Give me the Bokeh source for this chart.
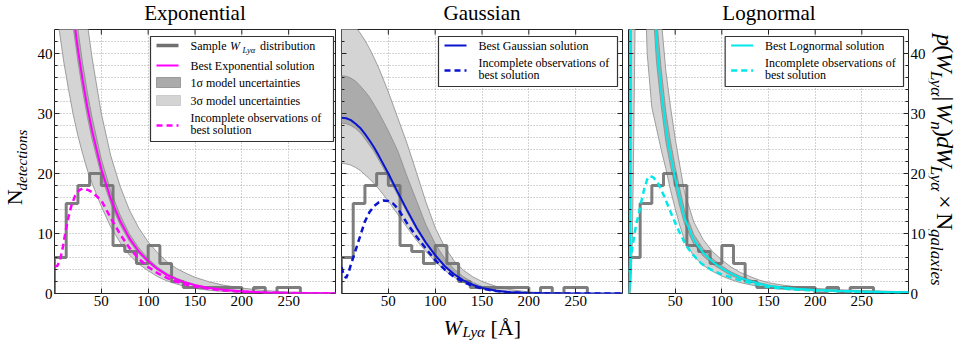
from bokeh.plotting import figure
from bokeh.models import Range1d, LinearAxis, FixedTicker, Grid, Label
from bokeh.layouts import row, column
from bokeh.embed import file_html
from bokeh.resources import INLINE

FONT = "Liberation Serif"

# ---------------- data ----------------
HIST_EDGES = [0, 12.5, 25, 37.5, 50, 62.5, 75, 87.5, 100, 112.5, 125, 137.5, 150,
              162.5, 175, 187.5, 200, 212.5, 225, 237.5, 250, 262.5]
HIST_COUNTS = [6, 15, 18, 20, 18, 8, 7, 5, 8, 5, 2, 1, 1, 1, 1, 1, 0, 1, 0, 1, 1]

X_TICKS = [50, 100, 150, 200, 250]
Y_TICKS = [0, 10, 20, 30, 40]
Y_MINOR = [2, 4, 6, 8, 12, 14, 16, 18, 22, 24, 26, 28, 32, 34, 36, 38, 42]

# Exponential model
W_EXP = [0, 5, 10, 15, 20, 25, 30, 35, 40, 50, 60, 70, 80, 90, 100, 110, 120, 130,
         140, 150, 165, 180, 200, 225, 250, 275, 300]
EXP_BEST = [80.0, 69.9, 61.1, 53.3, 46.6, 40.7, 35.6, 31.1, 27.2, 20.7, 15.8, 12.1, 9.2,
            7.0, 5.4, 4.1, 3.1, 2.4, 1.82, 1.39, 0.92, 0.62, 0.36, 0.18, 0.09, 0.047, 0.023]
EXP_S1_HI = [86.4, 75.5, 66.0, 57.6, 50.3, 44.0, 38.4, 33.6, 29.4, 22.4, 17.1, 13.1, 9.9,
             7.6, 5.8, 4.4, 3.35, 2.6, 1.97, 1.5, 1.0, 0.67, 0.39, 0.19, 0.1, 0.05, 0.025]
EXP_S1_LO = [76.0, 66.4, 58.0, 50.6, 44.3, 38.7, 33.8, 29.5, 25.8, 19.7, 15.0, 11.5, 8.7,
             6.65, 5.1, 3.9, 2.95, 2.28, 1.73, 1.32, 0.87, 0.59, 0.34, 0.17, 0.085, 0.045, 0.022]
EXP_S3_HI = [116, 101, 88.6, 77.3, 67.6, 59.0, 51.6, 45.1, 39.4, 30.0, 23.0, 17.9, 13.9,
             10.9, 8.6, 6.8, 5.3, 4.2, 3.4, 2.7, 1.95, 1.4, 0.9, 0.48, 0.25, 0.14, 0.07]
EXP_S3_LO = [50, 44, 38.5, 34, 29.8, 26.3, 23.3, 20.6, 18.4, 14.5, 11.1, 8.5, 6.4, 4.9,
             3.8, 2.8, 2.1, 1.6, 1.15, 0.85, 0.53, 0.34, 0.18, 0.09, 0.045, 0.023, 0.011]
W_EXP_INC = [0, 3, 6, 9, 12, 15, 18, 22, 26, 30, 35, 40, 50, 60, 70, 80, 90, 100, 110,
             120, 130, 140, 150, 165, 180, 200, 225, 250, 275, 300]
EXP_INC = [4.5, 4.6, 5.6, 7.8, 10.5, 12.8, 14.6, 16.3, 17.2, 17.5, 17.3, 16.9, 15.5, 12.6,
           9.9, 7.6, 5.8, 4.4, 3.4, 2.6, 2.0, 1.5, 1.16, 0.77, 0.52, 0.3, 0.15, 0.075, 0.039, 0.019]

# Gaussian model
W_GAU = W_EXP
GAU_BEST = [29.3, 29.2, 28.9, 28.3, 27.6, 26.6, 25.5, 24.3, 22.9, 20.0, 16.9, 13.9, 11.0,
            8.5, 6.4, 4.6, 3.25, 2.2, 1.47, 0.94, 0.46, 0.21, 0.065, 0.013, 0.002, 0.0, 0.0]
GAU_S1_HI = [36.3, 36.2, 35.9, 35.4, 34.6, 33.7, 32.7, 31.4, 30.1, 27.1, 23.8, 19.5, 15.5,
             11.5, 8.3, 5.9, 4.1, 2.8, 1.85, 1.2, 0.6, 0.28, 0.09, 0.02, 0.004, 0.0, 0.0]
GAU_S1_LO = [28.4, 28.3, 28.0, 27.5, 26.8, 25.8, 24.7, 23.6, 22.2, 19.4, 16.4, 13.5, 10.7,
             8.2, 6.2, 4.45, 3.15, 2.13, 1.42, 0.91, 0.45, 0.2, 0.063, 0.013, 0.002, 0.0, 0.0]
GAU_S3_HI = [45.6, 45.5, 45.0, 44.4, 43.4, 42.2, 40.8, 39.2, 37.5, 33.6, 29.3, 25.0, 20.2,
             15.3, 11.0, 7.8, 5.5, 3.9, 2.8, 2.0, 1.2, 0.65, 0.26, 0.08, 0.02, 0.004, 0.0]
GAU_S3_LO = [21.7, 21.6, 21.4, 21.0, 20.5, 19.8, 19.1, 18.3, 17.4, 15.4, 13.2, 11.0, 8.9,
             7.0, 5.3, 3.9, 2.75, 1.85, 1.2, 0.75, 0.35, 0.15, 0.04, 0.007, 0.001, 0.0, 0.0]
W_GAU_INC = [0, 2.5, 5, 7.5, 10, 15, 20, 25, 30, 35, 40, 45, 50, 55, 60, 70, 80, 90, 100,
             110, 120, 130, 140, 150, 165, 180, 200, 225, 250, 300]
GAU_INC = [4.4, 3.0, 2.6, 3.5, 4.8, 7.2, 9.6, 12.0, 13.6, 14.6, 15.2, 15.5, 15.4, 15.0,
           14.2, 11.7, 9.5, 7.5, 5.6, 4.0, 2.8, 1.9, 1.27, 0.81, 0.4, 0.18, 0.055, 0.011, 0.002, 0.0]

# Lognormal model
W_LOG = [0, 0.5, 1, 1.5, 2, 2.5, 3, 4, 5, 7, 10, 15, 20, 25, 30, 35, 40, 45, 50, 55, 60,
         70, 80, 90, 100, 110, 120, 130, 140, 150, 165, 180, 200, 225, 250, 275, 300]
LOG_BEST = [0, 0, 0.3, 1.5, 8, 40, 80, 120, 150, 170, 160, 120, 85, 55, 42, 34, 27.5, 23,
            19.2, 15.8, 12.6, 8.9, 6.8, 5.3, 4.2, 3.3, 2.6, 2.1, 1.65, 1.3, 1.0, 0.8, 0.6,
            0.45, 0.35, 0.27, 0.2]
LOG_S1_HI = [0, 0.5, 2, 6, 20, 60, 100, 140, 170, 190, 180, 132, 93.5, 60.5, 46.2, 37.4,
             30.3, 25.3, 21.1, 17.4, 13.9, 9.8, 7.5, 5.8, 4.6, 3.6, 2.85, 2.3, 1.8, 1.43,
             1.1, 0.88, 0.66, 0.5, 0.39, 0.3, 0.22]
LOG_S1_LO = [0, 0, 0.1, 0.8, 4, 25, 60, 100, 135, 155, 147, 110, 78, 50.6, 38.6, 31.3,
             25.3, 21.2, 17.7, 14.5, 11.6, 8.2, 6.25, 4.9, 3.9, 3.0, 2.4, 1.93, 1.52, 1.2,
             0.92, 0.74, 0.55, 0.41, 0.32, 0.25, 0.18]
LOG_S3_HI = [0, 6, 30, 60, 90, 120, 150, 180, 200, 220, 210, 160, 115, 74, 56.7, 45.9,
             37.1, 31.1, 25.9, 21.3, 16.9, 11.9, 9.0, 7.0, 5.6, 4.4, 3.5, 2.85, 2.25, 1.8,
             1.4, 1.12, 0.85, 0.64, 0.5, 0.39, 0.29]
LOG_S3_LO = [0, 0, 0, 0, 0.5, 1.5, 3, 8, 18, 44, 90, 65, 40, 31, 27.5, 24, 20.8, 17.2,
             14.2, 11.3, 8.9, 6.2, 4.7, 3.7, 2.9, 2.3, 1.8, 1.47, 1.15, 0.9, 0.7, 0.56,
             0.42, 0.31, 0.24, 0.19, 0.14]
W_LOG_INC = [1, 2, 4, 6, 8, 11, 14, 17, 20, 23, 27, 32, 38, 43, 48, 54, 60, 64, 70, 78,
             88, 100, 115, 130, 150, 175, 200, 250, 300]
LOG_INC = [3.5, 5, 7.5, 9.5, 11.3, 13.3, 15.5, 17.5, 19, 19.6, 19.3, 18.3, 16.3, 14.4,
           12.5, 10.4, 8.5, 7.5, 6.3, 5.0, 4.0, 3.2, 2.4, 1.8, 1.05, 0.7, 0.5, 0.29, 0.16]

PANELS = [
    dict(title="Exponential", color="#ff00ff", w=W_EXP, best=EXP_BEST, s1hi=EXP_S1_HI,
         s1lo=EXP_S1_LO, s3hi=EXP_S3_HI, s3lo=EXP_S3_LO, wi=W_EXP_INC, inc=EXP_INC),
    dict(title="Gaussian", color="#0a14d0", w=W_GAU, best=GAU_BEST, s1hi=GAU_S1_HI,
         s1lo=GAU_S1_LO, s3hi=GAU_S3_HI, s3lo=GAU_S3_LO, wi=W_GAU_INC, inc=GAU_INC),
    dict(title="Lognormal", color="#00e8e8", w=W_LOG, best=LOG_BEST, s1hi=LOG_S1_HI,
         s1lo=LOG_S1_LO, s3hi=LOG_S3_HI, s3lo=LOG_S3_LO, wi=W_LOG_INC, inc=LOG_INC),
]

# ---------------- layout (canvas pixels) ----------------
XMAX, YMAX = 300, 44
FRAME_TOP, FRAME_BOTTOM = 29, 293
FW = 281
FRAME_LEFTS = [54, 341, 628]
TOP_H, MID_H, BOT_H = 27, 287, 29
LEFT_W, RIGHT_W = 32, 41
FIG_SPECS = [(306, 22, 3), (287, 3, 3), (303, 3, 19)]  # width, border left, border right
TOTAL_W = LEFT_W + sum(s[0] for s in FIG_SPECS) + RIGHT_W
CORR = 0.28  # baseline correction (fraction of font size)

HIST_COLOR = "#707070"
S3_COLOR = "#d4d4d4"
S1_COLOR = "#ababab"
EDGE_COLOR = "#8a8a8a"
GRID_COLOR = "#a8a8a8"
TICK_COLOR = "#222222"


def make_px(left):
    def px(x):
        return (x - left) * XMAX / FW
    return px


def py(y):
    return (FRAME_BOTTOM - y) * YMAX / (FRAME_BOTTOM - FRAME_TOP)


def text(p, conv, s, x, y, size=12, style="normal", align="left", rot=0):
    """x, y: page pixel position of the text baseline start; conv maps page px -> data."""
    if rot == 0:
        y = y - CORR * size
        angle = 0
    elif rot > 0:
        x = x - CORR * size
        angle = 1.5708
    else:
        x = x + CORR * size
        angle = -1.5708
    cx, cy = conv
    p.add_layout(Label(x=cx(x), y=cy(y), text=s, text_font=FONT, text_font_size=f"{size}px",
                       text_font_style=style, text_align=align, text_baseline="alphabetic",
                       angle=angle, text_color="black"))


def text_fig(width, height, ox, oy):
    f = figure(width=width, height=height, x_range=Range1d(0, width),
               y_range=Range1d(height, 0), x_axis_type=None, y_axis_type=None,
               output_backend="svg", toolbar_location=None, title=None,
               min_border_left=0, min_border_right=0, min_border_top=0, min_border_bottom=0)
    f.outline_line_color = None
    f.background_fill_color = "white"
    f.border_fill_color = "white"
    return f, (lambda x: x - ox, lambda y: y - oy)


xt = FixedTicker(ticks=X_TICKS, minor_ticks=[])
yt = FixedTicker(ticks=Y_TICKS, minor_ticks=Y_MINOR)
TX_MAJ = 5 * XMAX / FW
TY_MAJ = 5 * YMAX / 264.0
TX_MIN = 3 * XMAX / FW

figs = []
for i, P in enumerate(PANELS):
    width, bl, br = FIG_SPECS[i]
    left = FRAME_LEFTS[i]
    px = make_px(left)
    conv = (px, py)
    p = figure(width=width, height=MID_H, x_range=Range1d(0, XMAX), y_range=Range1d(0, YMAX),
               x_axis_type=None, y_axis_type=None, output_backend="svg", title=None,
               toolbar_location=None, min_border_left=bl, min_border_right=br,
               min_border_top=FRAME_TOP - TOP_H, min_border_bottom=TOP_H + MID_H - FRAME_BOTTOM)
    p.outline_line_color = "#222222"
    p.outline_line_width = 1
    p.background_fill_color = "white"
    p.border_fill_color = "white"

    common = dict(axis_line_color=None, major_tick_in=5, major_tick_out=0, minor_tick_in=3,
                  minor_tick_out=0, major_tick_line_color=TICK_COLOR,
                  minor_tick_line_color=TICK_COLOR, major_label_text_font=FONT,
                  major_label_text_font_size="15px", major_label_text_color="black",
                  major_label_standoff=2)
    p.add_layout(LinearAxis(ticker=xt, **common), "below")
    if i == 0:
        p.add_layout(LinearAxis(ticker=yt, **common), "left")
    if i == 2:
        p.add_layout(LinearAxis(ticker=yt, **common), "right")

    p.add_layout(Grid(dimension=0, ticker=xt, grid_line_color=GRID_COLOR,
                      grid_line_dash="1 2", grid_line_width=1))
    p.add_layout(Grid(dimension=1, ticker=yt, grid_line_color=GRID_COLOR,
                      grid_line_dash="1 2", grid_line_width=1,
                      minor_grid_line_color=GRID_COLOR, minor_grid_line_dash="1 2"))

    # uncertainty bands
    p.varea(x=P["w"], y1=P["s3lo"], y2=P["s3hi"], fill_color=S3_COLOR, fill_alpha=1)
    p.varea(x=P["w"], y1=P["s1lo"], y2=P["s1hi"], fill_color=S1_COLOR, fill_alpha=1)
    for key in ("s3lo", "s3hi", "s1lo", "s1hi"):
        p.line(x=P["w"], y=P[key], line_color=EDGE_COLOR, line_width=0.8)

    # histogram outline
    hx = [HIST_EDGES[0]] + HIST_EDGES
    hy = [0] + HIST_COUNTS + [0]
    p.step(x=hx, y=hy, mode="after", line_color=HIST_COLOR, line_width=3, line_alpha=0.9)

    # incomplete + best solution
    p.line(x=P["wi"], y=P["inc"], line_color=P["color"], line_width=2.5, line_dash="6 4")
    p.line(x=P["w"], y=P["best"], line_color=P["color"], line_width=2)

    # inward ticks on the sides without a labelled axis
    p.segment(x0=X_TICKS, x1=X_TICKS, y0=[YMAX] * 5, y1=[YMAX - TY_MAJ] * 5,
              line_color=TICK_COLOR, line_width=1)
    sides = []
    if i != 0:
        sides.append((0, 1))
    if i != 2:
        sides.append((XMAX, -1))
    for xs, sgn in sides:
        p.segment(x0=[xs] * len(Y_TICKS), x1=[xs + sgn * TX_MAJ] * len(Y_TICKS),
                  y0=Y_TICKS, y1=Y_TICKS, line_color=TICK_COLOR, line_width=1)
        p.segment(x0=[xs] * len(Y_MINOR), x1=[xs + sgn * TX_MIN] * len(Y_MINOR),
                  y0=Y_MINOR, y1=Y_MINOR, line_color=TICK_COLOR, line_width=1)

    # legend
    if i == 0:
        bx0, bx1, by0, by1 = 150, 333, 36, 141
    else:
        bx0 = left + 97
        bx1, by0, by1 = bx0 + 179, 36, 86
    p.quad(left=px(bx0), right=px(bx1), bottom=py(by1), top=py(by0),
           fill_color="white", line_color="#333333", line_width=1.2)
    sx0, sx1 = bx0 + 6, bx0 + 28
    tx = bx0 + 40
    if i == 0:
        p.line(x=[px(sx0), px(sx1)], y=[py(45), py(45)], line_color=HIST_COLOR,
               line_width=3.5)
        text(p, conv, "Sample", tx, 49)
        text(p, conv, "W", tx + 39.5, 49, style="italic")
        text(p, conv, "Lyα", tx + 52, 51.5, size=8.5, style="italic")
        text(p, conv, "distribution", tx + 69.5, 49)
        p.line(x=[px(sx0), px(sx1)], y=[py(65), py(65)], line_color=P["color"], line_width=2)
        text(p, conv, "Best Exponential solution", tx, 69)
        p.quad(left=px(sx0), right=px(sx1 + 2), bottom=py(87), top=py(77),
               fill_color=S1_COLOR, line_color=EDGE_COLOR, line_width=0.8)
        text(p, conv, "1σ model uncertainties", tx, 86)
        p.quad(left=px(sx0), right=px(sx1 + 2), bottom=py(105), top=py(95),
               fill_color=S3_COLOR, line_color="#c4c4c4", line_width=0.8)
        text(p, conv, "3σ model uncertainties", tx, 103.5)
        dy_line, t1, t2 = 125, 120.5, 132.5
    else:
        p.line(x=[px(sx0), px(sx1)], y=[py(45), py(45)], line_color=P["color"], line_width=2)
        text(p, conv, f"Best {P['title']} solution", tx, 49)
        dy_line, t1, t2 = 70, 66, 78
    p.line(x=[px(sx0), px(sx1)], y=[py(dy_line), py(dy_line)], line_color=P["color"],
           line_width=2.5, line_dash="6 4")
    text(p, conv, "Incomplete observations of", tx, t1)
    text(p, conv, "best solution", tx, t2)

    figs.append(p)

# ---------------- titles row ----------------
title_fig, tconv = text_fig(TOTAL_W, TOP_H, 0, 0)
for i, P in enumerate(PANELS):
    text(title_fig, tconv, P["title"], FRAME_LEFTS[i] + FW / 2, 18, size=21, align="center")

# ---------------- left y label: N_detections ----------------
left_fig, lconv = text_fig(LEFT_W, MID_H, 0, TOP_H)
text(left_fig, lconv, "N", 20, 218, size=22, rot=1)
text(left_fig, lconv, "detections", 25.5, 202, size=15, style="italic", rot=1)

# ---------------- right y label ----------------
RX0 = TOTAL_W - RIGHT_W
right_fig, rconv = text_fig(RIGHT_W, MID_H, RX0, TOP_H)
MAIN, SUB = 24, 17
# (text, font size, style, width in em, extra pad px)
RIGHT_LABEL = [("p", MAIN, "italic", 0.5, 0), ("(", MAIN, "normal", 0.333, 0),
               ("W", MAIN, "italic", 0.833, 0), ("Lyα", SUB, "italic", 1.52, 0),
               ("|", MAIN, "normal", 0.2, 4), ("W", MAIN, "italic", 0.833, 0),
               ("n", SUB, "italic", 0.5, 0), (")", MAIN, "normal", 0.333, 0),
               ("d", MAIN, "italic", 0.5, 0), ("W", MAIN, "italic", 0.833, 0),
               ("Lyα", SUB, "italic", 1.52, 0), ("×", MAIN, "normal", 0.564, 12),
               ("N", MAIN, "normal", 0.722, 0), ("galaxies", SUB, "italic", 3.333, 0)]
ypos = 32
for s, size, style, em, pad in RIGHT_LABEL:
    bx = 938 if size == MAIN else 931
    text(right_fig, rconv, s, bx, ypos + pad / 2, size=size, style=style, rot=-1)
    ypos += em * size + pad

# ---------------- bottom x label ----------------
bot_fig, bconv = text_fig(TOTAL_W, BOT_H, 0, TOP_H + MID_H)
text(bot_fig, bconv, "W", 443, 333, size=22, style="italic")
text(bot_fig, bconv, "Lyα", 462, 335.5, size=15, style="italic")
text(bot_fig, bconv, "[Å]", 490, 333, size=22)

layout = column(title_fig, row(left_fig, *figs, right_fig, spacing=0), bot_fig, spacing=0)
open("out.html", "w").write(file_html(layout, INLINE))
